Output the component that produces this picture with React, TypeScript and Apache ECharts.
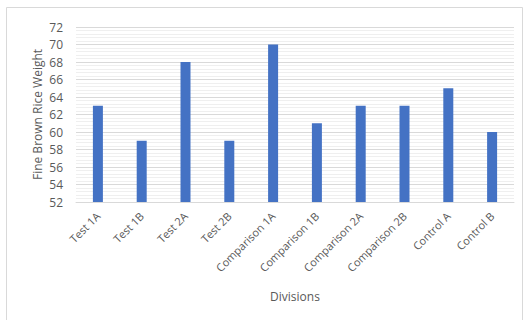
import React, { useEffect, useRef } from "react";
import * as echarts from "echarts";

const categories = [
  "Test 1A",
  "Test 1B",
  "Test 2A",
  "Test 2B",
  "Comparison 1A",
  "Comparison 1B",
  "Comparison 2A",
  "Comparison 2B",
  "Control A",
  "Control B",
];
const weights = [63, 59, 68, 59, 70, 61, 63, 63, 65, 60];

export default function App() {
  const ref = useRef<HTMLDivElement>(null);
  useEffect(() => {
    if (!ref.current) return;
    const chart = echarts.init(ref.current, null, { renderer: "svg" });
    const font = "Open Sans";
    chart.setOption({
      animation: false,
      backgroundColor: "#ffffff",
      textStyle: { fontFamily: font },
      graphic: [
        {
          type: "rect",
          shape: { x: 6.5, y: 7.5, width: 516, height: 318 },
          style: { fill: "none", stroke: "#d9d9d9", lineWidth: 1 },
          silent: true,
        },
      ],
      grid: { left: 76, right: 11, top: 27, bottom: 118 },
      xAxis: {
        type: "category",
        data: categories,
        name: "Divisions",
        nameLocation: "middle",
        nameGap: 88,
        nameMoveOverlap: false,
        nameTextStyle: { color: "#595959", fontSize: 12, fontFamily: font },
        axisLine: { show: true, lineStyle: { color: "#d9d9d9" } },
        axisTick: { show: false },
        axisLabel: {
          rotate: 45,
          interval: 0,
          color: "#595959",
          fontSize: 11,
          fontFamily: font,
          margin: 12,
        },
      },
      yAxis: {
        type: "value",
        min: 52,
        max: 72,
        interval: 2,
        name: "Fine Brown Rice Weight",
        nameLocation: "middle",
        nameGap: 33,
        nameMoveOverlap: false,
        nameTextStyle: { color: "#595959", fontSize: 12, fontFamily: font },
        axisLine: { show: false },
        axisTick: { show: false },
        axisLabel: { color: "#595959", fontSize: 12, fontFamily: font, margin: 13 },
        splitLine: { show: true, lineStyle: { color: "#d9d9d9", width: 1 } },
        minorTick: { show: false, splitNumber: 5 },
        minorSplitLine: { show: true, lineStyle: { color: "#efefef", width: 1 } },
      },
      series: [
        {
          type: "bar",
          data: weights,
          barWidth: 10,
          itemStyle: { color: "#4472c4" },
        },
      ],
    });
    return () => chart.dispose();
  }, []);
  return (
    <div
      ref={ref}
      style={{ position: "fixed", left: 0, top: 0, width: 525, height: 320 }}
    />
  );
}
